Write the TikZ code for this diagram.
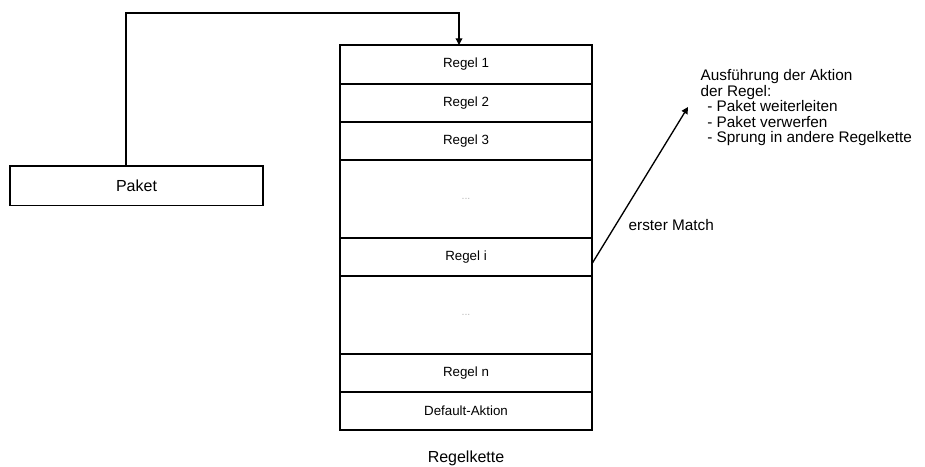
\documentclass[tikz,border=0pt]{standalone}
\usepackage{fontspec}
\setmainfont{Liberation Sans}
\usetikzlibrary{arrows.meta}

\tikzset{every picture/.style={line width=1pt}}
\tikzset{
  rulerow/.style={draw, minimum width=189pt, minimum height=28.5pt, inner sep=0pt, outer sep=0pt, font=\fontsize{10}{12}\selectfont},
  gaprow/.style={rulerow, minimum height=58.5pt, text=gray!55, font=\fontsize{8}{9}\selectfont},
  flowarrow/.style={-{Triangle[length=5pt,width=5pt]}},
}

\begin{document}
\begin{tikzpicture}[x=0.75pt,y=0.75pt,yscale=-1,xscale=1]
\useasboundingbox (0,0) rectangle (925,467);

% Paket
\node (paket) [draw, minimum width=189.75pt, minimum height=29.5pt, inner sep=0pt, font=\fontsize{12}{14}\selectfont] at (136.5,185.75) {Paket};

% Regelkette rows
\node (r1) [rulerow, minimum height=29.25pt] at (466,64.5) {Regel 1};
\node (r2) [rulerow] at (466,103) {Regel 2};
\node (r3) [rulerow] at (466,141) {Regel 3};
\node (gapA) [gaprow] at (466,199) {...};
\node (ri) [rulerow] at (466,257) {Regel i};
\node (gapB) [gaprow] at (466,315) {...};
\node (rn) [rulerow] at (466,373) {Regel n};
\node (dflt) [rulerow] at (466,411) {Default-Aktion};

% Text Node
\node (kette) [font=\fontsize{12}{14}\selectfont] at (466,458) {Regelkette};
% Text Node
\node (match) [anchor=base west, inner sep=0pt, font=\fontsize{11.5}{13}\selectfont] at (628,230) {erster Match};
% Text Node
\node (aktion) [anchor=north west, inner sep=0pt, align=left, font=\fontsize{11.5}{11.6}\selectfont] at (700,69) {Ausführung der Aktion\\der Regel:\\\hspace*{5pt}- Paket weiterleiten\\\hspace*{5pt}- Paket verwerfen\\\hspace*{5pt}- Sprung in andere Regelkette};

% Connectors
\coordinate (up) at (126,13);
\coordinate (over) at (459,13);
\coordinate (act) at (688,107);
\draw [flowarrow] (paket.north -| up) -- (up) -- (over) -- (over |- r1.north);
\draw [flowarrow] ([yshift=5pt]ri.east) -- (act);

\end{tikzpicture}
\end{document}
